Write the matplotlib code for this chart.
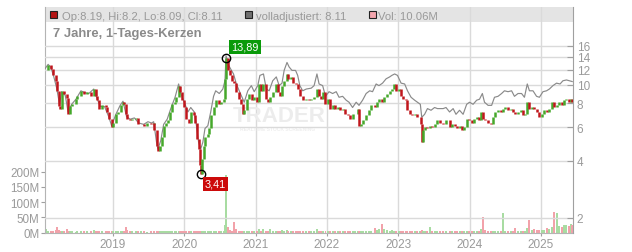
import matplotlib
matplotlib.use("Agg")
import matplotlib.pyplot as plt
from matplotlib.patches import Rectangle
from matplotlib.ticker import NullLocator

plt.rcParams["font.family"] = ["Liberation Sans", "DejaVu Sans"]

# ~2-weekly closes (decimal years)
days = [
    2018.056, 2018.09, 2018.13, 2018.16, 2018.20, 2018.21, 2018.24, 2018.26, 2018.28, 2018.31,
    2018.35, 2018.37, 2018.40, 2018.43, 2018.48, 2018.50, 2018.55, 2018.59, 2018.64, 2018.69,
    2018.73, 2018.76, 2018.78, 2018.80, 2018.85, 2018.90, 2018.92, 2018.95, 2018.98,
    2019.00, 2019.04, 2019.07, 2019.11, 2019.14, 2019.16, 2019.18, 2019.20, 2019.24, 2019.27,
    2019.32, 2019.35, 2019.39, 2019.43, 2019.48, 2019.53, 2019.57, 2019.58, 2019.61, 2019.63,
    2019.66, 2019.68, 2019.71, 2019.74, 2019.77, 2019.80, 2019.83, 2019.87, 2019.89, 2019.92,
    2019.94, 2019.97,
    2020.00, 2020.03, 2020.07, 2020.09, 2020.13, 2020.15, 2020.18, 2020.20, 2020.22, 2020.23,
    2020.25, 2020.27, 2020.29, 2020.33, 2020.35, 2020.37, 2020.41, 2020.44, 2020.48, 2020.51,
    2020.55, 2020.575, 2020.585, 2020.61, 2020.64, 2020.67, 2020.70, 2020.73, 2020.76, 2020.80,
    2020.82, 2020.84, 2020.88, 2020.91, 2020.95, 2020.98,
    2021.02, 2021.05, 2021.08, 2021.11, 2021.14, 2021.17, 2021.20, 2021.24, 2021.28, 2021.31,
    2021.34, 2021.37, 2021.40, 2021.44, 2021.46, 2021.50, 2021.53, 2021.56, 2021.59, 2021.62,
    2021.66, 2021.70, 2021.75, 2021.78, 2021.82, 2021.86, 2021.89, 2021.92, 2021.95, 2021.98,
    2022.01, 2022.04, 2022.08, 2022.12, 2022.15, 2022.18, 2022.22, 2022.26, 2022.29, 2022.32,
    2022.36, 2022.40, 2022.43, 2022.45, 2022.48, 2022.51, 2022.55, 2022.59, 2022.62, 2022.67,
    2022.70, 2022.73, 2022.77, 2022.80, 2022.84, 2022.88, 2022.91, 2022.94, 2022.97,
    2023.01, 2023.04, 2023.07, 2023.11, 2023.13, 2023.17, 2023.20, 2023.24, 2023.27, 2023.31,
    2023.32, 2023.33, 2023.35, 2023.38, 2023.41, 2023.45, 2023.48, 2023.52, 2023.55, 2023.59,
    2023.63, 2023.67, 2023.72, 2023.75, 2023.79, 2023.83, 2023.86, 2023.89, 2023.92, 2023.96,
    2023.99,
    2024.03, 2024.06, 2024.10, 2024.13, 2024.16, 2024.19, 2024.22, 2024.26, 2024.30, 2024.33,
    2024.36, 2024.40, 2024.44, 2024.47, 2024.50, 2024.54, 2024.58, 2024.61, 2024.64, 2024.68,
    2024.72, 2024.75, 2024.78, 2024.81, 2024.83, 2024.87, 2024.90, 2024.94, 2024.97,
    2025.01, 2025.05, 2025.08, 2025.11, 2025.15, 2025.19, 2025.22, 2025.25, 2025.29, 2025.33,
    2025.36, 2025.39, 2025.42, 2025.44,
]
close = [
    12.0, 12.7, 12.1, 11.2, 10.5, 9.3, 7.7, 7.5, 9.3, 9.0,
    8.5, 7.0, 7.7, 7.9, 8.4, 8.7, 9.3, 9.0, 9.15, 8.7,
    9.5, 8.7, 8.3, 7.5, 7.8, 7.6, 7.2, 6.6, 6.0,
    6.3, 7.0, 7.2, 7.8, 8.1, 7.9, 7.0, 6.6, 6.5, 6.6,
    6.7, 6.2, 6.2, 6.1, 6.3, 6.2, 6.3, 5.8, 4.8, 4.5,
    4.8, 5.3, 6.1, 6.3, 6.5, 7.2, 7.9, 8.1, 8.6, 9.9,
    9.2, 8.3,
    7.6, 6.6, 6.3, 7.2, 6.9, 6.3, 5.2, 4.6, 3.8, 3.41,
    4.1, 4.8, 5.3, 5.5, 5.9, 6.9, 7.6, 8.3, 7.9, 8.1,
    8.4, 10.75, 13.89, 11.9, 11.2, 10.5, 10.2, 9.2, 8.4, 7.9,
    7.0, 7.4, 8.4, 9.0, 8.3, 8.6,
    8.1, 10.1, 9.3, 10.1, 8.4, 8.1, 8.6, 9.2, 10.1, 9.2,
    8.7, 9.9, 10.5, 11.4, 10.75, 11.0, 10.2, 10.1, 9.5, 8.7,
    8.3, 8.4, 8.3, 8.4, 8.6, 9.5, 8.7, 8.4, 9.2, 7.9,
    8.4, 7.5, 7.8, 7.5, 7.6, 7.35, 7.5, 7.0, 6.9, 6.6,
    7.0, 7.0, 7.5, 6.1, 6.2, 6.5, 6.9, 7.35, 7.8, 7.6,
    8.1, 8.4, 8.1, 8.6, 9.0, 9.3, 9.5, 10.1, 9.3,
    9.5, 8.7, 8.4, 8.3, 7.35, 7.0, 6.9, 7.0, 6.75, 6.75,
    6.2, 5.0, 5.8, 6.0, 5.9, 6.1, 6.0, 6.2, 6.5, 6.3,
    6.2, 6.5, 6.0, 6.2, 6.1, 5.9, 6.1, 5.8, 6.0, 6.6,
    6.5,
    6.3, 6.6, 6.75, 6.5, 7.2, 6.6, 6.5, 6.3, 6.2, 6.75,
    7.2, 7.35, 7.2, 7.5, 7.6, 7.35, 7.5, 7.2, 7.0, 7.2,
    7.35, 6.9, 7.0, 8.1, 7.5, 7.6, 7.5, 7.2, 6.75,
    7.0, 7.35, 7.2, 7.5, 8.1, 7.6, 7.8, 8.1, 7.8, 8.3,
    8.4, 8.1, 8.4, 8.11,
]
# volume in millions
vol = [
    12, 6, 5, 6, 8, 20, 10, 6, 7, 5,
    13, 7, 4, 4, 3, 4, 5, 4, 4, 7,
    8, 5, 7, 5, 4, 4, 4, 5, 6,
    4, 5, 4, 5, 4, 5, 20, 8, 5, 4,
    5, 6, 4, 4, 3, 4, 4, 5, 6, 5,
    4, 4, 5, 4, 4, 4, 5, 4, 5, 6,
    5, 4,
    4, 5, 4, 4, 5, 5, 6, 7, 6, 7,
    5, 5, 4, 4, 4, 5, 4, 5, 4, 4,
    5, 24, 188, 20, 8, 6, 36, 12, 6, 5,
    6, 5, 5, 5, 5, 4,
    5, 13, 6, 13, 6, 5, 12, 5, 6, 5,
    5, 10, 6, 8, 6, 5, 4, 4, 4, 5,
    4, 4, 4, 4, 5, 13, 5, 4, 5, 6,
    6, 5, 4, 4, 4, 4, 5, 4, 4, 5,
    4, 4, 5, 6, 5, 4, 4, 5, 4, 17,
    8, 13, 28, 13, 8, 6, 10, 6, 4,
    4, 4, 4, 4, 5, 5, 4, 4, 5, 5,
    6, 8, 5, 4, 4, 20, 5, 4, 4, 4,
    4, 4, 4, 4, 4, 4, 4, 4, 4, 5,
    4,
    4, 4, 5, 5, 13, 52, 10, 6, 5, 5,
    5, 5, 5, 64, 6, 5, 5, 5, 15, 5,
    5, 6, 6, 14, 42, 8, 13, 8, 8,
    8, 10, 17, 12, 20, 68, 66, 22, 20, 25,
    26, 22, 30, 26,
]

# "volladjustiert" line
adj_days = [
    2018.05, 2018.09, 2018.13, 2018.17, 2018.21, 2018.25, 2018.28, 2018.33, 2018.37, 2018.42,
    2018.48, 2018.55, 2018.60, 2018.66, 2018.73, 2018.78, 2018.82, 2018.88, 2018.94, 2018.98,
    2019.04, 2019.10, 2019.14, 2019.19, 2019.24, 2019.30, 2019.36, 2019.43, 2019.49, 2019.54,
    2019.57, 2019.61, 2019.63, 2019.67, 2019.71, 2019.76, 2019.81, 2019.87, 2019.92, 2019.95,
    2020.00, 2020.05, 2020.09, 2020.14, 2020.17, 2020.20, 2020.23, 2020.26, 2020.29, 2020.33,
    2020.37, 2020.41, 2020.44, 2020.49, 2020.54, 2020.57, 2020.585, 2020.62, 2020.65, 2020.69,
    2020.73, 2020.77, 2020.81, 2020.84, 2020.89, 2020.94, 2020.98,
    2021.03, 2021.06, 2021.11, 2021.15, 2021.19, 2021.24, 2021.29, 2021.33, 2021.37, 2021.40,
    2021.44, 2021.47, 2021.51, 2021.56, 2021.59, 2021.62, 2021.66, 2021.71, 2021.78, 2021.82,
    2021.86, 2021.89, 2021.94, 2021.98,
    2022.03, 2022.08, 2022.13, 2022.17, 2022.22, 2022.27, 2022.31, 2022.36, 2022.41, 2022.45,
    2022.50, 2022.55, 2022.60, 2022.64, 2022.69, 2022.73, 2022.78, 2022.83, 2022.88, 2022.91,
    2022.95, 2022.99,
    2023.04, 2023.09, 2023.13, 2023.18, 2023.23, 2023.27, 2023.31, 2023.33, 2023.37, 2023.41,
    2023.46, 2023.51, 2023.55, 2023.63, 2023.67, 2023.72, 2023.77, 2023.81, 2023.86, 2023.91,
    2023.96,
    2024.00, 2024.05, 2024.10, 2024.14, 2024.18, 2024.21, 2024.26, 2024.31, 2024.35, 2024.40,
    2024.45, 2024.49, 2024.54, 2024.59, 2024.63, 2024.68, 2024.73, 2024.77, 2024.81, 2024.84,
    2024.89, 2024.94, 2024.98,
    2025.03, 2025.08, 2025.12, 2025.17, 2025.22, 2025.27, 2025.31, 2025.36, 2025.40, 2025.44,
]
adj_close = [
    12.2, 12.8, 12.3, 11.0, 9.6, 7.9, 9.2, 8.8, 7.2, 7.9,
    8.4, 9.3, 9.1, 9.0, 9.5, 8.4, 7.7, 7.7, 6.8, 6.1,
    7.0, 7.8, 8.2, 6.8, 6.6, 6.7, 6.3, 6.2, 6.4, 6.3,
    6.4, 5.0, 4.6, 5.1, 6.2, 6.6, 7.5, 8.6, 10.1, 9.0,
    8.1, 7.2, 7.6, 7.2, 6.1, 5.0, 4.6, 5.0, 5.9, 6.1,
    7.2, 8.7, 9.3, 9.0, 9.5, 10.5, 14.2, 12.7, 12.1, 11.4,
    10.1, 9.3, 8.6, 8.1, 9.3, 9.9, 9.2,
    9.9, 11.2, 11.4, 9.5, 9.3, 10.5, 11.0, 9.9, 10.2, 11.9,
    13.1, 12.4, 11.9, 11.9, 11.2, 9.9, 9.3, 9.5, 9.6, 9.9,
    11.4, 10.1, 9.9, 8.7,
    9.2, 9.0, 9.2, 8.6, 8.7, 8.3, 8.1, 7.6, 8.1, 7.8,
    8.3, 9.0, 9.3, 9.2, 10.1, 9.9, 10.2, 10.75, 11.0, 11.2,
    11.4, 11.2,
    10.2, 10.1, 9.3, 8.6, 8.3, 8.1, 7.9, 6.75, 7.0, 7.5,
    7.35, 7.6, 7.5, 7.5, 7.6, 7.2, 7.5, 7.0, 7.35, 7.0,
    7.9,
    8.1, 7.9, 8.3, 8.4, 9.0, 8.1, 7.8, 7.8, 8.6, 8.7,
    9.0, 9.3, 9.2, 9.3, 8.7, 9.0, 9.0, 8.6, 10.1, 9.3,
    9.3, 8.7, 8.6,
    9.2, 9.3, 9.5, 9.9, 10.2, 10.1, 10.5, 10.6, 10.5, 10.4,
]

years = [2019, 2020, 2021, 2022, 2023, 2024, 2025]
price_ticks = [2, 4, 6, 8, 10, 12, 14, 16]
vol_ticks = [0, 50, 100, 150, 200]

W, H = 632, 253
L, R, T, B = 45, 572.7, 8, 233.7
GRID = "#dadada"
LBL = "#9a9a9a"
UP, DOWN = "#45a82b", "#c0161c"
VUP, VDOWN = "#a8dca2", "#f2a2aa"


def fx(x):
    return x / W


def fy(y):
    return 1 - y / H


fig = plt.figure(figsize=(W / 100, H / 100), dpi=100)
axv = fig.add_axes([L / W, 1 - B / H, (R - L) / W, (B - T) / H])
axp = axv.twinx()

opens = [close[0]] + close[:-1]
up = [c >= o for o, c in zip(opens, close)]

# volume
axv.bar(days, vol, width=0.028, color=[VUP if u else VDOWN for u in up], linewidth=0, zorder=2)
axv.set_ylim(0, 740)
axv.set_xlim(2018.046, 2025.447)
axv.set_yticks(vol_ticks, [f"{v}M" for v in vol_ticks])
axv.set_xticks(years, [str(y) for y in years])

# header band + year grid
axv.add_patch(Rectangle((0, (B - 22.7) / (B - T)), 1, (22.7 - T) / (B - T),
                        transform=axv.transAxes, fc="#e4e4e4", ec="none", zorder=0))
for y in years:
    axv.axvline(y, color=GRID, lw=1, zorder=0.5)

# watermark
axv.text(fx(233), fy(116), "TRADER", transform=fig.transFigure, fontsize=16, fontweight="bold",
         color="#ececec", va="center", ha="left", zorder=0.6)
axv.text(fx(240), fy(129.5), "REALTIME STOCK SCREENING", transform=fig.transFigure, fontsize=3.6,
         fontweight="bold", color="#eeeeee", va="center", ha="left", zorder=0.6)

# price
axp.set_yscale("log")
axp.set_ylim(1.674, 25.6)
for p in price_ticks:
    axp.axhline(p, color=GRID, lw=1, zorder=0.5)
axp.plot(adj_days, adj_close, color="#8a8a8a", lw=0.85, zorder=2)
lo = [min(o, c) for o, c in zip(opens, close)]
hi = [max(o, c) for o, c in zip(opens, close)]
axp.vlines(days, lo, hi, colors=[UP if u else DOWN for u in up], linewidth=1.8, zorder=3)
axp.set_yticks(price_ticks, [str(p) for p in price_ticks])
axp.yaxis.set_minor_locator(NullLocator())

# high / low markers
i_hi = close.index(max(close))
i_lo = close.index(min(close))
axp.plot([days[i_hi], days[i_lo]], [close[i_hi], close[i_lo]], "o", mfc="none", mec="black",
         ms=6, mew=1, zorder=5)
axp.annotate(f"{close[i_hi]:.2f}".replace(".", ","), xy=(days[i_hi], close[i_hi]),
             xytext=(13.7, 7.7), textcoords="offset points", ha="center", va="center",
             color="white", fontsize=7.8,
             bbox=dict(boxstyle="square,pad=0.2", fc="#0a9a0a", ec="none"), zorder=6)
axp.annotate(f"{close[i_lo]:.2f}".replace(".", ","), xy=(days[i_lo], close[i_lo]),
             xytext=(10.7, -7.3), textcoords="offset points", ha="center", va="center",
             color="white", fontsize=7.8,
             bbox=dict(boxstyle="square,pad=0.2", fc="#cc0a0a", ec="none"), zorder=6)

# axes styling
for s in ["top", "right"]:
    axv.spines[s].set_visible(False)
for s in ["top", "left", "bottom"]:
    axp.spines[s].set_visible(False)
axv.spines["left"].set_color("#b4b4b4")
axv.spines["bottom"].set_color("#b4b4b4")
axp.spines["right"].set_color("#a0a0a0")
axv.tick_params(axis="x", length=2, color="#a0a0a0", labelcolor=LBL, labelsize=8.5, pad=2)
axv.tick_params(axis="y", length=3, color="#a0a0a0", labelcolor=LBL, labelsize=8.4, pad=1)
axp.tick_params(axis="y", direction="in", length=4, color="#a0a0a0", labelcolor=LBL,
                labelsize=8.5, pad=3)

# header legend
fig.add_artist(Rectangle((fx(50), fy(19.3)), 7 / W, 7 / H, transform=fig.transFigure,
                         fc="#b41414", ec="#222222", lw=0.8))
fig.text(fx(61.5), fy(19.5), "Op:8.19, Hi:8.2, Lo:8.09, Cl:8.11", fontsize=8.1, color="#999999",
         va="baseline")
fig.add_artist(Rectangle((fx(245), fy(19.3)), 7 / W, 7 / H, transform=fig.transFigure,
                         fc="#707070", ec="#222222", lw=0.8))
fig.text(fx(256), fy(19.5), "volladjustiert: 8.11", fontsize=8.1, color="#999999", va="baseline")
fig.add_artist(Rectangle((fx(369), fy(19.3)), 7 / W, 7 / H, transform=fig.transFigure,
                         fc="#f4a6ae", ec="#222222", lw=0.8))
fig.text(fx(378.5), fy(19.5), "Vol: 10.06M", fontsize=8.1, color="#999999", va="baseline")

fig.text(fx(53), fy(37.3), "7 Jahre, 1-Tages-Kerzen", fontsize=9.4, fontweight="bold",
         color="#8a8a8a", va="baseline")

fig.savefig("out.png", dpi=100)
